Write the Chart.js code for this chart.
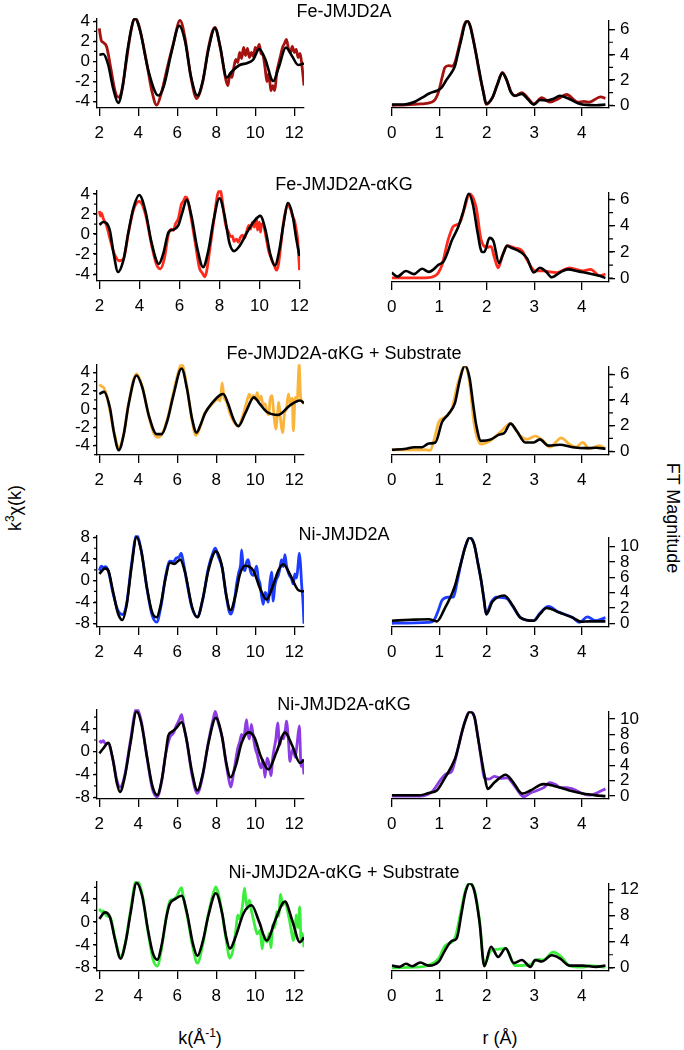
<!DOCTYPE html>
<html>
<head>
<meta charset="UTF-8">
<title>EXAFS JMJD2A</title>
<script src="https://cdn.jsdelivr.net/npm/chart.js"></script>
<style>
  body { margin: 0; background: #fff; }
  #fig { position: relative; width: 684px; height: 1050px; font-family: "Liberation Sans", Arial, sans-serif; color: #000; }
  #fig canvas { position: absolute; }
  .lbl { position: absolute; font-size: 18px; line-height: 1; white-space: nowrap; transform: translate(-50%, -50%); }
  .rot-l { transform: translate(-50%, -50%) rotate(-90deg); }
  .rot-r { transform: translate(-50%, -50%) rotate(90deg); }
  sup { font-size: 12px; vertical-align: 7px; line-height: 0; }
</style>
</head>
<body>
<div id="fig"></div>

<script>
// ---- tick labels ----
const kTicks = [2, 4, 6, 8, 10, 12];
const rTicks = [0, 1, 2, 3, 4];
const feChiTicks = [-4, -2, 0, 2, 4];
const niChiTicks = [-8, -4, 0, 4, 8];
const niChiTicks2 = [-8, -4, 0, 4];
const feFtTicks = [0, 2, 4, 6];
const niFtTicks = [0, 2, 4, 6, 8, 10];
const niFtTicks2 = [0, 4, 8, 12];

const titles = ['Fe-JMJD2A', 'Fe-JMJD2A-\u03b1KG', 'Fe-JMJD2A-\u03b1KG + Substrate',
                'Ni-JMJD2A', 'Ni-JMJD2A-\u03b1KG', 'Ni-JMJD2A-\u03b1KG + Substrate'];
const colors = ['#a3120f', '#ff2a1c', '#fbb43a', '#1c3cff', '#8c3ce2', '#3ded3d'];

// ---- k-space: data and fit, [k, k3chi] ----
const feA_kData = [[2.0,3.3],[2.05,2.6],[2.1,2.1],[2.2,1.9],[2.37,1.5],[2.6,-0.8],[2.8,-2.9],[2.97,-3.55],[3.1,-3.3],[3.4,0.2],[3.6,2.8],[3.83,4.3],[4.0,3.8],[4.4,0.2],[4.7,-3.0],[4.94,-4.35],[5.2,-3.0],[5.5,-0.5],[5.8,1.8],[6.14,4.1],[6.4,2.3],[6.7,-1.6],[7.0,-3.7],[7.3,-2.1],[7.6,1.4],[7.93,3.4],[8.2,1.4],[8.4,-0.9],[8.5,-1.9],[8.6,-2.4],[8.7,-1.2],[8.8,-1.6],[8.9,-0.6],[9.0,0.2],[9.1,-0.1],[9.2,0.9],[9.3,0.3],[9.4,1.4],[9.5,0.6],[9.6,1.3],[9.7,0.4],[9.8,0.9],[9.9,0.5],[10.0,1.4],[10.1,1.1],[10.2,1.7],[10.3,0.8],[10.4,0.6],[10.5,-0.6],[10.6,-2.0],[10.7,-1.2],[10.8,-2.9],[10.9,-2.4],[11.0,-2.9],[11.1,-1.1],[11.2,-0.2],[11.3,0.6],[11.4,1.4],[11.5,1.8],[11.6,2.2],[11.7,1.3],[11.8,0.9],[11.9,1.5],[12.0,0.9],[12.1,1.2],[12.2,0.4],[12.3,0.8],[12.4,-0.5],[12.5,-2.4]];
const feA_kFit = [[2.0,0.67],[2.2,0.75],[2.45,-0.3],[2.7,-2.6],[2.97,-4.13],[3.2,-2.5],[3.45,1.2],[3.83,4.3],[4.1,3.0],[4.5,-0.8],[5.03,-3.4],[5.3,-2.5],[5.7,0.9],[6.1,3.56],[6.4,2.0],[6.7,-1.5],[7.03,-3.4],[7.3,-2.0],[7.6,1.2],[7.93,3.33],[8.2,1.5],[8.53,-1.6],[8.8,-1.0],[9.2,-0.35],[9.6,-0.15],[9.9,0.2],[10.2,1.25],[10.5,0.3],[10.92,-1.95],[11.2,-0.6],[11.57,1.4],[11.9,0.5],[12.2,-0.35],[12.5,-0.2]];

const feK_kData = [[2.0,2.3],[2.05,1.8],[2.1,2.1],[2.2,1.5],[2.35,0.9],[2.52,-0.4],[2.75,-2.0],[3.0,-2.66],[3.2,-2.5],[3.45,0.1],[3.7,2.4],[3.99,3.26],[4.3,2.0],[4.6,-1.0],[4.85,-3.0],[5.05,-3.46],[5.25,-2.4],[5.45,0.0],[5.6,0.5],[5.7,0.38],[5.8,1.0],[5.95,1.6],[6.1,3.0],[6.2,3.3],[6.3,3.7],[6.4,3.5],[6.5,2.6],[6.8,-1.0],[7.0,-3.4],[7.15,-3.9],[7.26,-4.26],[7.35,-3.8],[7.5,-1.8],[7.75,1.8],[7.9,3.9],[8.05,4.4],[8.15,3.2],[8.3,1.0],[8.45,0.2],[8.57,-0.25],[8.65,-0.2],[8.73,-0.74],[8.85,-0.5],[8.95,-0.8],[9.05,-0.3],[9.15,-0.1],[9.25,-0.4],[9.35,0.2],[9.47,0.86],[9.55,0.5],[9.65,1.18],[9.75,0.7],[9.85,1.6],[9.9,0.4],[10.0,1.2],[10.05,0.2],[10.1,1.0],[10.2,0.9],[10.3,0.0],[10.45,-1.6],[10.6,-2.5],[10.75,-3.2],[10.85,-3.6],[10.95,-3.0],[11.1,-0.5],[11.25,1.8],[11.43,2.9],[11.55,2.5],[11.65,1.8],[11.75,1.34],[11.82,0.6],[11.9,-0.4],[11.95,-1.8],[12.0,-3.6]];
const feK_kFit = [[2.0,0.93],[2.2,1.2],[2.52,0.38],[2.7,-1.8],[2.93,-3.78],[3.2,-2.6],[3.45,0.2],[3.7,2.6],[3.99,3.9],[4.3,2.3],[4.6,-0.8],[4.97,-2.98],[5.2,-1.9],[5.46,0.22],[5.7,0.45],[5.95,0.9],[6.15,2.2],[6.36,3.42],[6.6,1.8],[6.9,-1.5],[7.18,-3.3],[7.45,-1.6],[7.7,1.3],[8.0,3.58],[8.25,1.9],[8.5,-0.9],[8.73,-1.7],[9.0,-1.2],[9.39,0.22],[9.7,1.2],[10.04,1.82],[10.3,0.4],[10.55,-2.1],[10.77,-3.14],[11.0,-1.5],[11.2,1.0],[11.43,3.1],[11.65,1.9],[11.85,-0.6],[12.0,-2.18]];

const feS_kData = [[2.0,2.7],[2.1,2.5],[2.24,2.3],[2.4,1.3],[2.55,-0.3],[2.75,-2.5],[3.0,-4.2],[3.25,-2.8],[3.5,0.6],[3.91,3.86],[4.2,2.5],[4.55,-0.9],[4.8,-2.7],[5.03,-3.1],[5.25,-2.6],[5.5,-1.0],[5.8,1.8],[6.0,3.6],[6.22,4.98],[6.45,3.0],[6.75,-1.2],[6.95,-2.9],[7.1,-2.4],[7.4,-0.5],[7.6,0.1],[7.8,0.6],[7.95,0.9],[8.1,1.1],[8.2,0.9],[8.3,2.87],[8.4,1.2],[8.5,0.93],[8.7,-0.5],[8.9,-1.4],[9.13,-1.9],[9.35,-0.8],[9.55,0.7],[9.7,1.64],[9.8,1.0],[9.9,1.5],[10.0,1.1],[10.1,1.8],[10.2,0.93],[10.3,1.4],[10.4,0.4],[10.5,0.6],[10.6,-0.3],[10.7,-0.65],[10.75,0.9],[10.85,1.46],[10.95,-0.5],[11.05,-2.2],[11.15,-0.3],[11.2,0.75],[11.3,-1.2],[11.4,-2.6],[11.5,-0.5],[11.6,0.05],[11.7,1.64],[11.8,0.6],[11.9,1.2],[11.95,-2.4],[12.05,1.28],[12.15,0.9],[12.25,4.97],[12.32,1.46],[12.4,0.8],[12.5,0.58]];
const feS_kFit = [[2.0,1.64],[2.24,1.88],[2.55,0.05],[2.75,-2.6],[3.0,-4.52],[3.25,-2.8],[3.5,0.5],[3.91,3.68],[4.2,2.4],[4.55,-0.8],[4.94,-2.76],[5.2,-2.76],[5.5,-1.2],[5.8,1.5],[6.22,4.45],[6.5,2.2],[6.75,-1.0],[6.99,-2.59],[7.2,-1.7],[7.42,-0.48],[7.8,0.7],[8.19,1.53],[8.36,1.64],[8.6,0.6],[8.9,-1.2],[9.13,-1.88],[9.5,-0.4],[9.93,1.28],[10.25,0.5],[10.58,-0.3],[11.18,-0.65],[11.78,0.4],[12.3,0.93],[12.5,0.65]];

const niA_kData = [[2.0,1.85],[2.1,2.7],[2.2,2.4],[2.3,2.6],[2.46,1.8],[2.7,-2.3],[2.95,-5.5],[3.18,-6.3],[3.4,-4.3],[3.65,3.0],[3.91,8.4],[4.15,5.6],[4.45,-1.6],[4.7,-6.3],[4.94,-7.7],[5.15,-5.0],[5.4,0.8],[5.62,3.6],[5.8,3.5],[5.95,4.2],[6.1,4.4],[6.2,5.1],[6.3,3.6],[6.5,-0.5],[6.75,-5.0],[7.03,-6.7],[7.3,-3.6],[7.6,2.4],[7.85,5.4],[7.95,6.0],[8.1,4.5],[8.3,2.4],[8.5,-2.5],[8.65,-5.6],[8.75,-6.2],[8.9,-4.5],[9.05,-0.5],[9.15,1.5],[9.25,3.0],[9.3,5.7],[9.38,2.5],[9.47,1.85],[9.55,3.4],[9.64,3.9],[9.75,1.8],[9.9,0.96],[10.0,2.0],[10.07,2.7],[10.15,0.5],[10.24,-0.5],[10.32,-2.8],[10.41,-4.4],[10.5,-2.2],[10.58,-2.6],[10.66,-4.0],[10.75,-0.5],[10.84,1.55],[10.92,-3.8],[11.0,-1.0],[11.08,0.2],[11.18,0.96],[11.26,2.2],[11.35,3.9],[11.44,2.6],[11.52,4.8],[11.6,2.8],[11.69,1.55],[11.78,0.8],[11.86,0.36],[11.95,-0.6],[12.03,1.25],[12.12,0.5],[12.2,3.0],[12.26,5.1],[12.32,3.0],[12.38,-0.8],[12.44,-3.5],[12.5,-8.0]];
const niA_kFit = [[2.0,1.25],[2.29,2.27],[2.46,1.85],[2.7,-2.0],[2.95,-6.0],[3.18,-7.3],[3.4,-4.5],[3.65,2.5],[3.91,8.1],[4.15,5.5],[4.45,-1.5],[4.7,-5.8],[4.94,-6.8],[5.15,-4.5],[5.4,0.5],[5.62,3.3],[5.85,3.1],[6.15,3.9],[6.4,1.5],[6.75,-4.8],[7.03,-6.8],[7.3,-3.5],[7.6,2.0],[7.98,5.43],[8.3,2.5],[8.5,-2.5],[8.73,-5.5],[9.0,-2.5],[9.2,1.0],[9.47,2.75],[9.9,1.85],[10.25,-1.5],[10.58,-3.5],[10.9,-1.0],[11.2,2.0],[11.44,3.04],[11.8,1.0],[12.2,-1.73],[12.5,-2.0]];

const niK_kData = [[2.0,1.9],[2.1,1.6],[2.2,1.9],[2.3,1.4],[2.46,1.36],[2.7,-1.5],[2.9,-5.0],[3.06,-6.2],[3.3,-4.2],[3.6,2.0],[3.91,7.5],[4.15,5.3],[4.45,-1.2],[4.72,-6.5],[4.97,-7.9],[5.2,-5.2],[5.4,-0.5],[5.62,2.5],[5.8,3.2],[5.95,4.5],[6.1,5.5],[6.22,6.4],[6.3,5.0],[6.5,1.5],[6.75,-4.0],[7.03,-7.3],[7.3,-4.3],[7.6,1.8],[7.85,5.8],[7.95,7.0],[8.1,5.0],[8.3,2.5],[8.5,-2.0],[8.65,-5.0],[8.75,-6.2],[8.9,-3.5],[9.1,0.5],[9.2,1.64],[9.3,3.0],[9.4,2.2],[9.55,5.57],[9.63,3.0],[9.7,2.2],[9.8,4.73],[9.9,2.5],[10.0,0.52],[10.1,-0.5],[10.2,-2.0],[10.3,-2.84],[10.4,-1.5],[10.5,-4.5],[10.6,-1.16],[10.7,-2.0],[10.8,-4.2],[10.9,-1.0],[10.97,0.52],[11.05,2.0],[11.15,5.0],[11.25,1.1],[11.35,2.5],[11.45,2.2],[11.55,4.0],[11.6,5.3],[11.7,2.0],[11.78,-1.7],[11.85,-0.5],[11.95,0.52],[12.05,-1.0],[12.15,1.5],[12.26,4.45],[12.35,-2.6],[12.42,-1.5],[12.5,-4.0]];
const niK_kFit = [[2.0,-0.32],[2.2,0.52],[2.46,1.53],[2.7,-1.5],[2.9,-5.5],[3.06,-7.05],[3.3,-4.5],[3.6,1.5],[3.91,6.98],[4.15,5.0],[4.45,-1.0],[4.72,-6.0],[4.97,-7.6],[5.2,-5.0],[5.4,-0.5],[5.54,2.76],[5.75,3.5],[5.97,4.17],[6.22,5.1],[6.45,2.5],[6.75,-3.5],[7.03,-6.8],[7.3,-4.0],[7.6,1.5],[7.98,5.85],[8.3,2.5],[8.5,-1.8],[8.73,-4.5],[9.0,-2.5],[9.3,1.5],[9.64,3.33],[9.95,2.5],[10.3,-1.0],[10.67,-3.13],[11.1,0.0],[11.52,3.33],[11.9,1.0],[12.29,-2.0],[12.5,-1.45]];

const niS_kData = [[2.0,2.3],[2.1,1.8],[2.2,1.9],[2.3,1.4],[2.4,1.0],[2.55,0.9],[2.8,-2.8],[3.09,-6.05],[3.35,-3.4],[3.6,2.0],[3.91,7.35],[4.2,4.8],[4.5,-1.8],[4.75,-6.5],[4.97,-7.7],[5.2,-4.5],[5.45,1.2],[5.62,3.7],[5.8,3.9],[6.0,4.6],[6.1,5.4],[6.22,5.96],[6.3,4.5],[6.5,1.2],[6.8,-4.5],[7.03,-7.2],[7.3,-4.0],[7.6,1.5],[7.85,5.0],[7.98,6.1],[8.1,5.0],[8.3,1.5],[8.5,-3.0],[8.7,-6.3],[8.85,-5.0],[9.0,-1.5],[9.1,1.2],[9.2,0.5],[9.35,3.0],[9.45,5.9],[9.5,4.3],[9.6,2.3],[9.7,3.8],[9.8,2.0],[9.9,0.5],[10.0,-1.0],[10.1,-2.1],[10.25,-1.5],[10.35,-4.7],[10.45,-2.4],[10.6,-3.5],[10.72,-2.0],[10.8,-4.5],[10.9,-0.5],[11.0,-1.0],[11.1,1.77],[11.2,1.0],[11.3,4.8],[11.4,2.9],[11.55,3.5],[11.65,2.0],[11.75,0.37],[11.85,-1.5],[11.95,-3.25],[12.05,-1.0],[12.1,1.2],[12.2,-1.0],[12.28,2.6],[12.35,-3.25],[12.42,-2.0],[12.5,-4.4]];
const niS_kFit = [[2.0,0.54],[2.29,1.66],[2.55,0.77],[2.8,-3.0],[3.09,-6.4],[3.35,-3.5],[3.6,1.5],[3.91,6.8],[4.2,4.5],[4.5,-1.5],[4.75,-5.5],[4.97,-6.6],[5.2,-4.0],[5.45,1.0],[5.62,3.16],[5.9,4.0],[6.22,4.56],[6.5,1.5],[6.8,-3.8],[7.03,-5.93],[7.3,-3.5],[7.6,1.2],[7.98,5.0],[8.3,1.5],[8.5,-2.5],[8.7,-4.66],[9.0,-2.5],[9.4,1.5],[9.81,2.9],[10.2,0.0],[10.58,-3.25],[11.05,0.5],[11.52,3.55],[11.9,0.2],[12.29,-3.55],[12.5,-2.7]];

// ---- r-space: data and fit, [r, FT magnitude] ----
const feA_rData = [[0,0],[0.3,0.03],[0.6,0.1],[0.85,0.25],[0.92,0.5],[0.99,1.1],[1.06,2.2],[1.12,3.0],[1.2,3.15],[1.27,3.1],[1.33,3.4],[1.4,4.4],[1.47,5.5],[1.53,6.4],[1.59,6.7],[1.66,6.2],[1.74,4.8],[1.81,3.3],[1.88,1.9],[1.94,0.9],[1.99,0.07],[2.12,0.6],[2.22,1.6],[2.33,2.6],[2.42,2.0],[2.52,1.0],[2.6,0.75],[2.74,1.0],[2.86,0.6],[2.99,0.1],[3.16,0.6],[3.33,0.25],[3.5,0.5],[3.68,0.85],[3.92,0.25],[4.05,0.3],[4.16,0.25],[4.4,0.67],[4.5,0.55]];
const feA_rFit = [[0,0.05],[0.3,0.08],[0.5,0.3],[0.64,0.6],[0.8,0.95],[0.95,1.15],[1.05,1.4],[1.15,2.0],[1.26,2.6],[1.33,3.1],[1.4,4.2],[1.47,5.3],[1.53,6.3],[1.59,6.7],[1.65,6.3],[1.71,5.3],[1.78,4.0],[1.85,2.6],[1.92,1.2],[1.99,0.12],[2.12,0.6],[2.22,1.6],[2.33,2.55],[2.42,2.0],[2.5,1.1],[2.6,0.75],[2.74,0.9],[2.86,0.5],[2.99,0.05],[3.12,0.42],[3.26,0.37],[3.4,0.5],[3.54,0.75],[3.74,0.5],[3.95,0.12],[4.3,0.0],[4.5,0.05]];

const feK_rData = [[0,0.02],[0.71,0.02],[0.92,0.19],[1.06,1.03],[1.19,2.95],[1.3,3.96],[1.43,4.2],[1.53,5.3],[1.64,6.43],[1.78,5.35],[1.88,2.95],[2.01,2.35],[2.09,2.42],[2.16,1.6],[2.24,0.79],[2.33,1.7],[2.43,2.47],[2.6,2.3],[2.74,2.11],[2.85,1.39],[3.02,0.55],[3.19,0.55],[3.47,0.43],[3.74,0.79],[4.02,0.55],[4.19,0.67],[4.37,0.19],[4.5,0.31]];
const feK_rFit = [[0,0.43],[0.12,0.12],[0.3,0.55],[0.47,0.31],[0.64,0.72],[0.78,0.48],[0.99,1.03],[1.09,1.27],[1.18,2.0],[1.26,2.83],[1.4,3.9],[1.5,5.0],[1.62,6.43],[1.71,5.6],[1.81,3.43],[1.9,2.0],[1.95,2.0],[2.06,3.07],[2.14,2.83],[2.26,1.15],[2.35,1.9],[2.43,2.47],[2.5,2.35],[2.71,2.0],[2.85,1.51],[2.99,0.43],[3.12,0.79],[3.25,0.5],[3.37,0.07],[3.55,0.45],[3.71,0.67],[3.95,0.5],[4.16,0.36],[4.35,0.2],[4.5,0.02]];

const feS_rData = [[0,0.12],[0.5,0.12],[0.71,0.12],[0.81,0.07],[0.9,1.0],[0.99,2.28],[1.12,2.65],[1.26,3.26],[1.4,5.4],[1.54,6.63],[1.63,5.6],[1.74,2.03],[1.88,0.56],[2.09,0.86],[2.3,1.54],[2.5,2.16],[2.71,1.18],[2.85,0.93],[3.02,1.18],[3.19,0.81],[3.33,0.32],[3.57,1.05],[3.74,0.56],[3.88,0.32],[4.02,0.69],[4.16,0.2],[4.37,0.44],[4.5,0.2]];
const feS_rFit = [[0,0.12],[0.3,0.2],[0.47,0.32],[0.64,0.32],[0.78,0.61],[0.92,0.69],[1.06,2.28],[1.19,2.89],[1.33,3.75],[1.43,5.5],[1.54,6.69],[1.64,5.7],[1.71,3.8],[1.78,2.03],[1.88,0.81],[2.09,0.93],[2.26,1.3],[2.37,1.42],[2.5,2.16],[2.64,1.54],[2.81,0.69],[2.99,0.69],[3.12,0.93],[3.3,0.44],[3.54,0.51],[3.81,0.32],[4.1,0.25],[4.3,0.27],[4.5,0.2]];

const niA_rData = [[0,0],[0.78,0.12],[0.88,0.33],[0.97,1.5],[1.06,3.0],[1.19,3.42],[1.3,3.42],[1.38,5.5],[1.47,8.15],[1.55,10.0],[1.64,11.2],[1.74,10.2],[1.81,8.0],[1.88,5.68],[1.94,3.2],[1.99,1.2],[2.1,2.8],[2.21,3.42],[2.43,3.2],[2.55,2.2],[2.71,0.74],[2.99,0.33],[3.12,1.3],[3.3,2.2],[3.5,1.5],[3.81,0.74],[3.95,0.12],[4.12,0.82],[4.3,0.33],[4.5,0.74]];
const niA_rFit = [[0,0.33],[0.4,0.45],[0.78,0.53],[0.95,0.25],[1.12,1.98],[1.25,3.6],[1.33,4.86],[1.4,6.5],[1.47,8.15],[1.55,10.0],[1.64,11.2],[1.74,10.2],[1.81,8.0],[1.88,5.68],[1.94,3.2],[1.99,1.15],[2.12,2.8],[2.37,3.62],[2.54,2.39],[2.71,0.74],[2.99,0.33],[3.12,1.2],[3.26,1.98],[3.54,1.36],[3.81,0.74],[3.99,0.2],[4.16,0.25],[4.5,0.25]];

const niK_rData = [[0,0],[0.6,0],[0.84,0.53],[1.06,2.37],[1.15,2.9],[1.26,3.18],[1.33,4.5],[1.4,6.3],[1.47,8.1],[1.55,9.8],[1.64,11.0],[1.74,10.3],[1.81,7.9],[1.88,5.0],[1.95,2.37],[2.05,2.2],[2.16,2.57],[2.3,2.3],[2.43,2.37],[2.6,1.2],[2.78,-0.08],[2.92,0.4],[3.06,0.73],[3.2,1.1],[3.33,1.76],[3.45,1.5],[3.54,1.14],[3.68,1.1],[3.81,0.94],[4.02,0.33],[4.19,0.12],[4.35,0.5],[4.5,0.94]];
const niK_rFit = [[0,0.12],[0.6,0.12],[0.78,0.41],[0.95,0.73],[1.12,2.37],[1.33,4.8],[1.4,6.3],[1.47,8.1],[1.55,9.8],[1.64,10.9],[1.74,10.3],[1.81,7.8],[1.88,5.2],[1.95,2.8],[2.02,0.94],[2.16,1.76],[2.4,2.78],[2.54,1.96],[2.75,0.33],[2.92,0.73],[3.19,1.55],[3.4,1.35],[3.74,0.73],[4.02,0.33],[4.3,0.1],[4.5,0.0]];

const niS_rData = [[0,0],[0.5,0.1],[0.71,0.24],[0.99,1.44],[1.12,3.36],[1.33,4.56],[1.45,8.4],[1.55,11.8],[1.64,12.96],[1.74,12.0],[1.85,7.2],[1.95,0.48],[2.09,2.64],[2.3,2.88],[2.4,3.0],[2.6,0.34],[2.92,0.48],[3.06,1.3],[3.19,1.2],[3.4,2.4],[3.57,1.68],[3.74,0.34],[4.02,0.1],[4.16,0.34],[4.5,0.1]];
const niS_rFit = [[0,0.34],[0.16,0.14],[0.3,0.62],[0.43,0.24],[0.6,0.82],[0.78,0.34],[0.99,0.96],[1.12,2.64],[1.26,4.08],[1.37,4.56],[1.47,8.4],[1.55,11.5],[1.64,12.96],[1.74,11.76],[1.85,6.96],[1.95,0.24],[2.09,3.22],[2.24,1.68],[2.4,3.0],[2.57,0.72],[2.74,1.2],[2.92,0.14],[3.02,1.2],[3.16,0.96],[3.37,1.92],[3.54,1.44],[3.74,0.34],[4.02,0.34],[4.3,0.14],[4.5,0.34]];

// ---- layout (page pixels of each plot area) and axis ranges ----
const rowsK = [
  { top: 15,    bottom: 108,   xmax: 12.5,  ymin: -4.64, ymax: 4.32, ticks: feChiTicks,  minor: 1, data: feA_kData, fit: feA_kFit },
  { top: 186.7, bottom: 281,   xmax: 12.03, ymin: -4.68, ymax: 4.38, ticks: feChiTicks,  minor: 1, data: feK_kData, fit: feK_kFit },
  { top: 360.7, bottom: 455,   xmax: 12.5,  ymin: -5.05, ymax: 4.92, ticks: feChiTicks,  minor: 1, data: feS_kData, fit: feS_kFit },
  { top: 531.7, bottom: 626.7, xmax: 12.5,  ymin: -8.6,  ymax: 8.42, ticks: niChiTicks,  minor: 2, data: niA_kData, fit: niA_kFit },
  { top: 706,   bottom: 799,   xmax: 12.5,  ymin: -8.28, ymax: 7.37, ticks: niChiTicks2, minor: 2, data: niK_kData, fit: niK_kFit },
  { top: 878.3, bottom: 971.7, xmax: 12.5,  ymin: -8.56, ymax: 7.09, ticks: niChiTicks2, minor: 2, data: niS_kData, fit: niS_kFit }
];
const rowsR = [
  { top: 15,    bottom: 108,   ymin: -0.22, ymax: 6.75,  ticks: feFtTicks,  minor: 1, data: feA_rData, fit: feA_rFit },
  { top: 186.7, bottom: 281.7, ymin: -0.29, ymax: 6.55,  ticks: feFtTicks,  minor: 1, data: feK_rData, fit: feK_rFit },
  { top: 360.7, bottom: 455,   ymin: -0.29, ymax: 6.64,  ticks: feFtTicks,  minor: 1, data: feS_rData, fit: feS_rFit },
  { top: 531.7, bottom: 626.7, ymin: -0.49, ymax: 11.23, ticks: niFtTicks,  minor: 0, data: niA_rData, fit: niA_rFit },
  { top: 706,   bottom: 799,   ymin: -0.37, ymax: 11.0,  ticks: niFtTicks,  minor: 0, data: niK_rData, fit: niK_rFit },
  { top: 878.3, bottom: 971.7, ymin: -0.49, ymax: 12.97, ticks: niFtTicks2, minor: 2, data: niS_rData, fit: niS_rFit }
];
const titleY = [11, 184, 353, 534, 704, 872];

Chart.defaults.font.family = '"Liberation Sans", Arial, sans-serif';
Chart.defaults.font.size = 17;
Chart.defaults.color = '#000';

// short unlabeled ticks between the labelled ones
const minorTicks = {
  id: 'minorTicks',
  afterDraw(chart, args, opts) {
    if (!opts.step) return;
    const s = chart.scales.y;
    const ctx = chart.ctx;
    const x0 = s.position === 'left' ? s.right : s.left;
    const dx = s.position === 'left' ? -opts.len : opts.len;
    ctx.save();
    ctx.strokeStyle = '#000';
    ctx.lineWidth = 1.2;
    ctx.beginPath();
    for (let v = Math.ceil(s.min / opts.step) * opts.step; v <= s.max + 1e-9; v += opts.step) {
      const y = s.getPixelForValue(v);
      ctx.moveTo(x0, y);
      ctx.lineTo(x0 + dx, y);
    }
    ctx.stroke();
    ctx.restore();
  }
};
Chart.register(minorTicks);

const fig = document.getElementById('fig');

function addLabel(html, x, y, cls) {
  const d = document.createElement('div');
  d.className = 'lbl' + (cls ? ' ' + cls : '');
  d.style.left = x + 'px';
  d.style.top = y + 'px';
  d.innerHTML = html;
  fig.appendChild(d);
}

function makePanel(area, side, xr, xTicks, row, color) {
  const padL = side === 'left' ? 62 : 8, padR = side === 'left' ? 12 : 52;
  const padT = 10, padB = 42;
  const cv = document.createElement('canvas');
  const w = Math.round(area.right - area.left) + padL + padR;
  const h = Math.round(row.bottom - row.top) + padT + padB;
  cv.width = w; cv.height = h;
  cv.style.left = Math.round(area.left - padL) + 'px';
  cv.style.top = Math.round(row.top - padT) + 'px';
  cv.style.width = w + 'px'; cv.style.height = h + 'px';
  fig.appendChild(cv);

  const axisLine = { display: true, color: '#000', width: 1.3 };
  // first dataset is drawn on top: fit (black) over measured data
  new Chart(cv, {
    type: 'scatter',
    data: {
      datasets: [
        { data: row.fit.map(p => ({ x: p[0], y: p[1] })), showLine: true, borderColor: '#000',
          borderWidth: 2.6, pointRadius: 0, cubicInterpolationMode: 'monotone' },
        { data: row.data.map(p => ({ x: p[0], y: p[1] })), showLine: true, borderColor: color,
          borderWidth: 2.8, pointRadius: 0, cubicInterpolationMode: 'monotone' }
      ]
    },
    options: {
      responsive: false,
      animation: false,
      events: [],
      layout: { autoPadding: false, padding: { left: side === 'left' ? 0 : padL, right: side === 'left' ? padR : 0, top: padT, bottom: 0 } },
      plugins: {
        legend: { display: false },
        tooltip: { enabled: false },
        minorTicks: { step: row.minor, len: side === 'left' ? 3 : 4 }
      },
      scales: {
        x: {
          type: 'linear', position: 'bottom', min: xr[0], max: xr[1],
          border: axisLine,
          grid: { drawOnChartArea: false, drawTicks: true, tickLength: 8, color: '#000', lineWidth: 1.3 },
          ticks: { padding: 7, maxRotation: 0, autoSkip: false },
          afterBuildTicks: s => { s.ticks = xTicks.map(v => ({ value: v })); },
          afterFit: s => { s.height = padB; }
        },
        y: {
          type: 'linear', position: side, min: row.ymin, max: row.ymax,
          border: axisLine,
          grid: { drawOnChartArea: false, drawTicks: true, tickLength: side === 'left' ? 4 : 6, color: '#000', lineWidth: 1.3 },
          ticks: { padding: side === 'left' ? 3 : 5, autoSkip: false },
          afterBuildTicks: s => { s.ticks = row.ticks.map(v => ({ value: v })); },
          afterFit: s => { s.width = side === 'left' ? padL : padR; }
        }
      }
    }
  });
}

rowsK.forEach((row, i) => {
  makePanel({ left: 97, right: 304 }, 'left', [1.88, row.xmax], kTicks, row, colors[i]);
});
rowsR.forEach((row, i) => {
  makePanel({ left: 387.7, right: 608.7 }, 'right', [0, 4.575], rTicks, row, colors[i]);
});

titles.forEach((t, i) => addLabel(t, 344, titleY[i]));
addLabel('k<sup>3</sup>\u03c7(k)', 15, 508, 'rot-l');
addLabel('FT Magnitude', 673, 518, 'rot-r');
addLabel('k(\u00c5<sup>-1</sup>)', 200, 1038);
addLabel('r (\u00c5)', 500, 1038);
</script>
</body>
</html>
